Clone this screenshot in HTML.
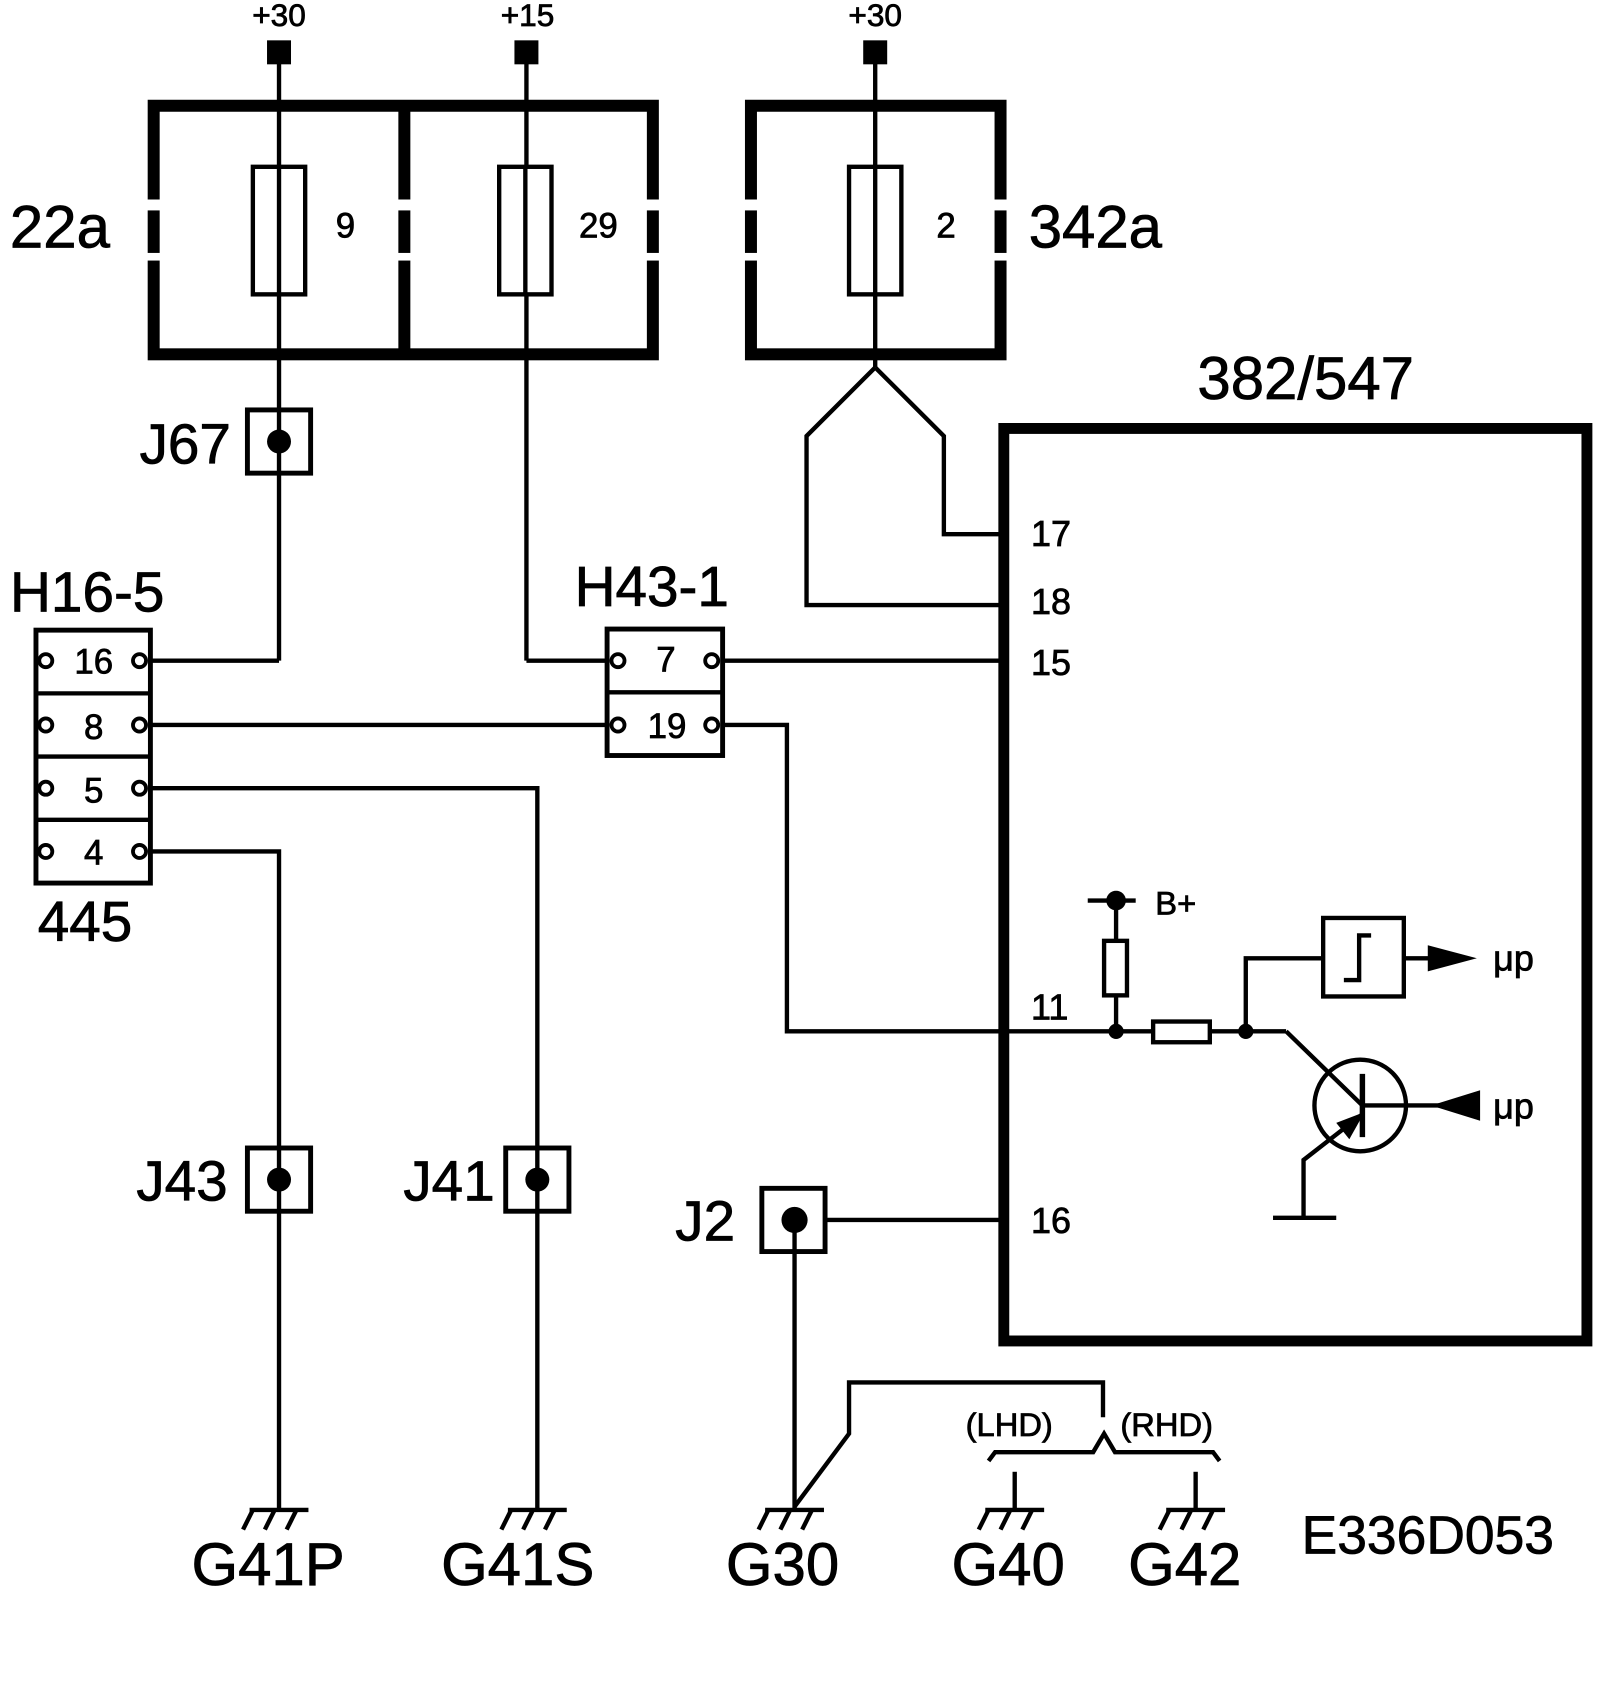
<!DOCTYPE html>
<html><head><style>html,body{margin:0;padding:0;background:#fff}svg{display:block}text{stroke:#000;stroke-width:0.7}</style></head>
<body>
<svg width="1600" height="1704" viewBox="0 0 1468 1563" preserveAspectRatio="none" xmlns="http://www.w3.org/2000/svg" font-family="Liberation Sans, Arial, sans-serif">
<g fill="none" stroke="#000" stroke-width="4">
<rect x="141" y="97" width="458" height="228" stroke-width="11"/>
<line x1="371" y1="97" x2="371" y2="325" stroke-width="11"/>
<rect x="689" y="97" width="229" height="228" stroke-width="11"/>
</g>
<g fill="#fff">
<rect x="130" y="183" width="1000" height="10"/>
<rect x="130" y="232" width="1000" height="7"/>
</g>
<g fill="none" stroke="#000" stroke-width="4">
<line x1="256" y1="48" x2="256" y2="606"/>
<line x1="483" y1="48" x2="483" y2="606"/>
<line x1="803" y1="48" x2="803" y2="337"/>
</g>
<g fill="#fff" stroke="#000" stroke-width="4">
<rect x="232" y="153" width="48" height="117"/>
<rect x="458" y="153" width="48" height="117"/>
<rect x="779" y="153" width="48" height="117"/>
</g>
<g stroke="#000" stroke-width="4"><line x1="256" y1="153" x2="256" y2="270"/><line x1="482" y1="153" x2="482" y2="270"/><line x1="803" y1="153" x2="803" y2="270"/></g>
<g fill="#000"><rect x="245" y="37" width="22" height="22"/><rect x="472" y="37" width="22" height="22"/><rect x="792" y="37" width="22" height="22"/></g>
<g font-size="29" text-anchor="middle">
<text x="256" y="24">+30</text><text x="484" y="24">+15</text><text x="803" y="24">+30</text>
<text x="317" y="218" font-size="32">9</text><text x="549" y="218" font-size="32">29</text><text x="868" y="218" font-size="32">2</text>
</g>
<g font-size="55" text-anchor="middle">
<text x="55" y="227">22a</text><text x="1005" y="227">342a</text>
<text x="1198" y="366">382/547</text>
<text x="170" y="425" font-size="52">J67</text>
<text x="80" y="561" font-size="52">H16-5</text>
<text x="78" y="863" font-size="52">445</text>
<text x="598" y="556" font-size="52">H43-1</text>
<text x="167" y="1101" font-size="52">J43</text>
<text x="412" y="1101" font-size="52">J41</text>
<text x="647" y="1138" font-size="52">J2</text>
<text x="246" y="1454">G41P</text><text x="475" y="1454">G41S</text><text x="718" y="1454">G30</text>
<text x="925" y="1454">G40</text><text x="1087" y="1454">G42</text>
<text x="1310" y="1425" font-size="49">E336D053</text>
</g>
<g fill="none" stroke="#000" stroke-width="4">
<polyline points="256,606 138,606"/>
<polyline points="483,606 557,606"/>
<line x1="138" y1="665" x2="557" y2="665"/>
<line x1="663" y1="606" x2="918" y2="606"/>
<polyline points="663,665 722,665 722,946 1058,946"/>
<polyline points="138,723 493,723 493,1385"/>
<polyline points="138,781 256,781 256,1385"/>
<polyline points="803,337 740,400 740,555 918,555"/>
<polyline points="803,337 866,400 866,490 918,490"/>
<line x1="757" y1="1119" x2="918" y2="1119"/>
<line x1="729" y1="1119" x2="729" y2="1385"/>
<polyline points="729,1382 779,1315 779,1268 1012,1268 1012,1300"/>
<polyline points="907,1340 913,1332 1003,1332 1013,1315 1023,1332 1113,1332 1119,1340"/>
<line x1="931" y1="1350" x2="931" y2="1385"/>
<line x1="1097" y1="1350" x2="1097" y2="1385"/>
<g id="g"><line x1="229" y1="1385" x2="283" y2="1385"/><line x1="232" y1="1385" x2="223" y2="1403"/><line x1="252" y1="1385" x2="243" y2="1403"/><line x1="272" y1="1385" x2="263" y2="1403"/></g>
<use href="#g" x="237"/><use href="#g" x="473"/><use href="#g" x="675"/><use href="#g" x="841"/>
<rect x="33" y="578" width="105" height="232" stroke-width="4.5"/>
<line x1="33" y1="636" x2="138" y2="636"/><line x1="33" y1="694" x2="138" y2="694"/><line x1="33" y1="752" x2="138" y2="752"/>
<rect x="557" y="577" width="106" height="116" stroke-width="4.5"/>
<line x1="557" y1="635" x2="663" y2="635"/>
<rect x="227" y="376" width="58" height="58" stroke-width="4.5"/>
<rect x="227" y="1053" width="58" height="58" stroke-width="4.5"/>
<rect x="464" y="1053" width="58" height="58" stroke-width="4.5"/>
<rect x="699" y="1090" width="58" height="58" stroke-width="4.5"/>
<rect x="921" y="393" width="535" height="837" stroke-width="10"/>
<line x1="1110" y1="946" x2="1180" y2="946"/>
<polyline points="1180,946 1250,1014"/>
<line x1="1024" y1="946" x2="1024" y2="913"/><line x1="1024" y1="863" x2="1024" y2="826"/>
<line x1="998" y1="826" x2="1042" y2="826"/>
<rect x="1013" y="863" width="21" height="50"/>
<rect x="1058" y="937" width="52" height="19"/>
<polyline points="1143,946 1143,879 1214,879"/>
<rect x="1214" y="842" width="74" height="72"/>
<polyline points="1233,899 1247,899 1247,858 1258,858"/>
<line x1="1288" y1="879" x2="1345" y2="879"/>
<circle cx="1248" cy="1014" r="42"/>
<line x1="1250" y1="985" x2="1250" y2="1043" stroke-width="5"/>
<line x1="1250" y1="1014" x2="1350" y2="1014"/>
<polyline points="1250,1022 1196,1064 1196,1117"/>
<line x1="1168" y1="1117" x2="1226" y2="1117"/>
</g>
<g fill="#000">
<polygon points="1310,867 1355,879 1310,891"/>
<polygon points="1358,1000 1313,1014 1358,1028"/>
<polygon points="1252,1020 1238,1045 1226,1030"/>
<circle cx="256" cy="405" r="11"/><circle cx="256" cy="1082" r="11"/><circle cx="493" cy="1082" r="11"/><circle cx="729" cy="1119" r="12"/>
<circle cx="1024" cy="946" r="7"/><circle cx="1143" cy="946" r="7"/><circle cx="1024" cy="826" r="9"/>
</g>
<g fill="#fff" stroke="#000" stroke-width="3.5">
<circle cx="42" cy="606" r="6"/><circle cx="128" cy="606" r="6"/>
<circle cx="42" cy="665" r="6"/><circle cx="128" cy="665" r="6"/>
<circle cx="42" cy="723" r="6"/><circle cx="128" cy="723" r="6"/>
<circle cx="42" cy="781" r="6"/><circle cx="128" cy="781" r="6"/>
<circle cx="567" cy="606" r="6"/><circle cx="653" cy="606" r="6"/>
<circle cx="567" cy="665" r="6"/><circle cx="653" cy="665" r="6"/>
</g>
<g font-size="32" text-anchor="middle">
<text x="86" y="618">16</text><text x="86" y="678">8</text><text x="86" y="736">5</text><text x="86" y="793">4</text>
<text x="611" y="616">7</text><text x="612" y="677">19</text>
</g>
<g font-size="33">
<text x="946" y="501">17</text><text x="946" y="563">18</text><text x="946" y="619">15</text><text x="946" y="935">11</text><text x="946" y="1131">16</text>
<text x="1060" y="839" font-size="30">B+</text>
<text x="1370" y="890">μp</text><text x="1370" y="1026">μp</text>
<text x="886" y="1317" font-size="30">(LHD)</text><text x="1028" y="1317" font-size="30">(RHD)</text>
</g>
</svg>
</body></html>
